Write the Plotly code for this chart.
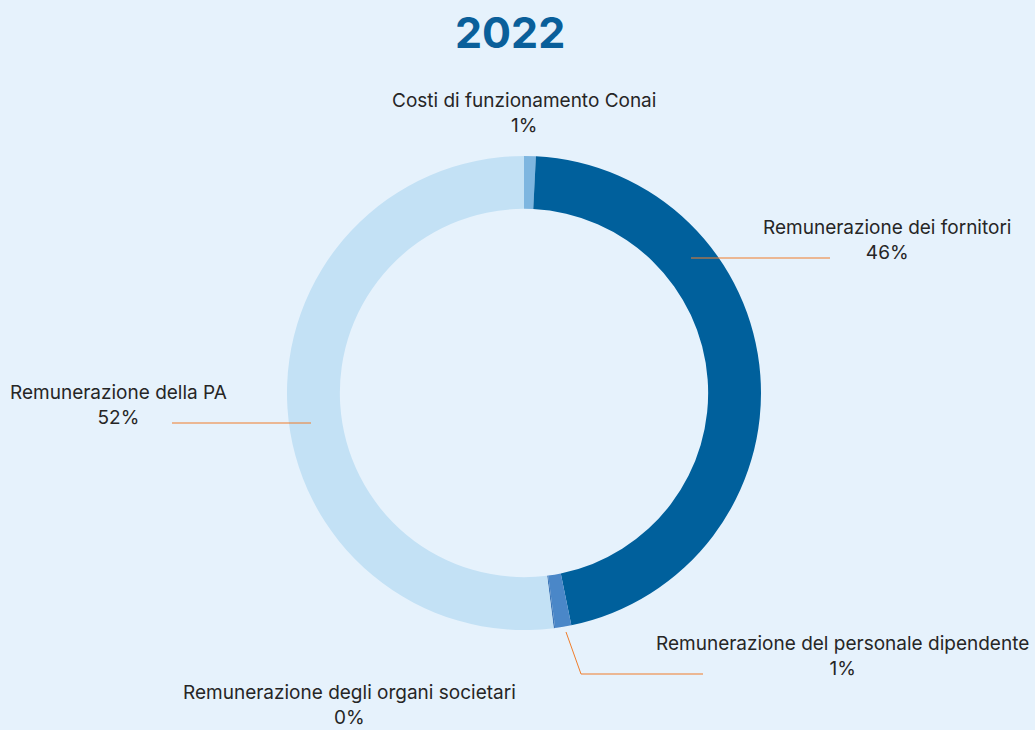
import plotly.graph_objects as go

# ---- data ----
labels = [
    "Costi di funzionamento Conai",
    "Remunerazione dei fornitori",
    "Remunerazione del personale dipendente",
    "Remunerazione degli organi societari",
    "Remunerazione della PA",
]
values = [0.8, 46.0, 1.1, 0.1, 52.0]
colors = ["#7EB6E0", "#00609C", "#4A87C8", "#3F78B8", "#C3E1F5"]
title_text = "2022"

# ---- layout constants (pixels) ----
W, H = 1035, 730
CX, CY, R = 524, 393, 237
HOLE = 0.777
BG = "#E6F2FC"
LINE_COLOR = "#F07D2A"

# label block: (anchor x, xanchor, center y of block)
label_pos = {
    "Costi di funzionamento Conai": (524, "center", 113),
    "Remunerazione dei fornitori": (1013, "right", 240),
    "Remunerazione del personale dipendente": (1031, "right", 656),
    "Remunerazione degli organi societari": (349, "center", 705),
    "Remunerazione della PA": (8, "left", 405),
}
# leader lines (polyline points in pixels)
leader = {
    "Remunerazione dei fornitori": [(691, 258), (830, 258)],
    "Remunerazione della PA": [(311, 423), (172, 423)],
    "Remunerazione del personale dipendente": [(566, 632), (581, 674), (703, 674)],
}


def px(x):
    return x / W


def py(y):
    return 1 - y / H


fig = go.Figure(
    go.Pie(
        labels=labels,
        values=values,
        marker=dict(colors=colors, line=dict(width=0)),
        hole=HOLE,
        sort=False,
        direction="clockwise",
        rotation=0,
        textinfo="none",
        hoverinfo="label+percent",
        domain=dict(x=[px(CX - R), px(CX + R)], y=[py(CY + R), py(CY - R)]),
        showlegend=False,
    )
)

total = sum(values)
annotations = []
for lab, v in zip(labels, values):
    x, xa, y = label_pos[lab]
    pct = round(v / total * 100)
    annotations.append(
        dict(
            x=px(x), y=py(y), xref="paper", yref="paper",
            xanchor=xa, yanchor="middle", align="center",
            text=f"{lab}<br>{pct}%", showarrow=False,
            font=dict(family="Inter", size=19, color="#262626"),
        )
    )

annotations.append(
    dict(
        x=px(510), y=py(32), xref="paper", yref="paper",
        xanchor="center", yanchor="middle",
        text=f"<b>{title_text}</b>", showarrow=False,
        font=dict(family="Inter", size=43, color="#0A5F9A"),
    )
)

shapes = []
for lab, pts in leader.items():
    path = "M " + " L ".join(f"{px(x)},{py(y)}" for x, y in pts)
    shapes.append(
        dict(type="path", path=path, xref="paper", yref="paper",
             line=dict(color=LINE_COLOR, width=1), layer="above")
    )

fig.update_layout(
    width=W, height=H,
    margin=dict(l=0, r=0, t=0, b=0),
    paper_bgcolor=BG, plot_bgcolor=BG,
    annotations=annotations, shapes=shapes,
)

fig.write_html(
    "out.html",
    config={"displayModeBar": False},
    post_script="document.body.style.margin='0';document.body.style.background='%s';" % BG,
)
